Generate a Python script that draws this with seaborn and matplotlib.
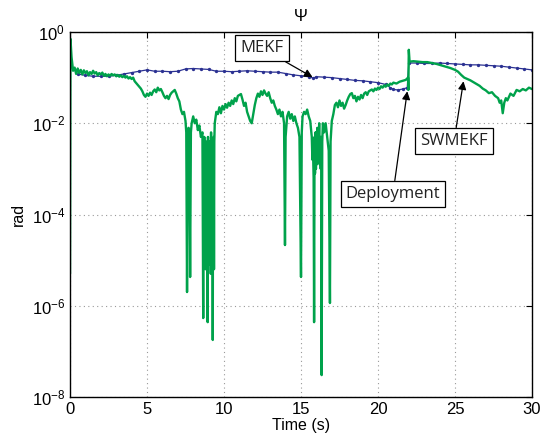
import numpy as np
import pandas as pd
import matplotlib
matplotlib.use("Agg")
import matplotlib.pyplot as plt
import seaborn as sns

# ---- data (log10 of error, rad) ----
sw_t = [0.00, 0.03, 0.1, 0.2, 0.3, 0.4, 0.5, 0.6, 0.7, 0.8, 0.9, 1.0, 1.1, 1.2, 1.3, 1.4, 1.5, 1.6, 1.7, 1.8,
        1.9, 2.0, 2.1, 2.2, 2.3, 2.4, 2.5, 2.6, 2.7, 2.8, 2.9, 3.0, 3.1, 3.2, 3.3, 3.4, 3.5, 3.6, 3.7, 3.8,
        3.9, 4.0, 4.1, 4.2, 4.3, 4.4, 4.5, 4.6, 4.7, 4.8, 4.9, 5.0, 5.1, 5.2, 5.3, 5.4, 5.5, 5.6, 5.7, 5.8,
        5.9, 6.0, 6.1, 6.2, 6.3, 6.4, 6.5, 6.6, 6.7, 6.8, 6.9, 7.0, 7.1, 7.2, 7.3, 7.4, 7.5, 7.55, 7.6, 7.65,
        7.7, 7.75, 7.8, 7.85, 7.9, 8.0, 8.1, 8.2, 8.3, 8.4, 8.5,
        8.6, 8.62, 8.65, 8.67, 8.70, 8.72, 8.75, 8.78, 8.80, 8.83, 8.85, 8.88, 8.90, 8.94, 8.96, 8.98, 9.00, 9.02,
        9.04, 9.06, 9.08, 9.10, 9.12, 9.14, 9.16, 9.18, 9.20, 9.22, 9.25, 9.27, 9.29, 9.31, 9.33, 9.35, 9.37, 9.4,
        9.5, 9.6, 9.7, 9.8, 9.9, 10.0, 10.1, 10.2, 10.3, 10.4,
        10.5, 10.6, 10.7, 10.8, 10.9, 11.0, 11.1, 11.2, 11.3, 11.4, 11.5, 11.6, 11.7, 11.8, 11.9, 12.0, 12.1, 12.2, 12.3, 12.4,
        12.5, 12.6, 12.7, 12.8, 12.9, 13.0, 13.1, 13.2, 13.3, 13.4, 13.5, 13.6, 13.7, 13.8, 13.9, 13.96, 14.0, 14.1, 14.2, 14.3,
        14.4, 14.5, 14.6, 14.7, 14.8, 14.9, 15.0, 15.05, 15.1, 15.2, 15.3, 15.4, 15.5, 15.6,
        15.7, 15.74, 15.78, 15.82, 15.85, 15.88, 15.91, 15.94, 15.97, 16.0, 16.03, 16.06, 16.09, 16.12, 16.15, 16.18,
        16.21, 16.25, 16.28, 16.31, 16.34, 16.38, 16.42,
        16.5, 16.6, 16.7, 16.8, 16.88, 16.92, 17.0, 17.1, 17.2, 17.3, 17.4,
        17.5, 17.6, 17.7, 17.8, 17.9, 18.0, 18.1, 18.2, 18.3, 18.4, 18.5, 18.6, 18.7, 18.8, 18.9, 19.0, 19.1, 19.2, 19.3, 19.4,
        19.5, 19.6, 19.7, 19.8, 19.9, 20.0, 20.1, 20.2, 20.3, 20.4, 20.5, 20.6, 20.7, 20.8, 20.9, 21.0, 21.2, 21.4, 21.6, 21.8,
        21.95, 21.97, 22.0, 22.05, 22.3, 22.6, 22.9, 23.2, 23.5, 23.8, 24.1, 24.4, 24.7, 25.0, 25.2, 25.4, 25.6, 25.8, 26.0, 26.2,
        26.4, 26.6, 26.8, 27.0, 27.2, 27.4, 27.6, 27.8, 27.9, 28.0, 28.1, 28.2, 28.3, 28.4, 28.6, 28.8, 29.0, 29.2, 29.4, 29.6,
        29.8, 30.0]
sw_log = [-5.3, -0.15, -0.55, -0.85, -0.78, -0.92, -0.80, -0.90, -0.83, -0.93, -0.84, -0.90, -0.86, -0.95, -0.88, -0.92, -0.85, -0.91, -0.88, -0.95,
          -0.90, -0.93, -0.89, -0.96, -0.92, -0.97, -0.93, -0.96, -0.92, -0.95, -0.93, -0.97, -0.94, -0.98, -0.95, -0.99, -0.96, -1.00, -0.97, -1.02,
          -0.99, -1.03, -1.00, -1.08, -1.12, -1.16, -1.20, -1.24, -1.30, -1.38, -1.42, -1.35, -1.40, -1.33, -1.38, -1.30, -1.26, -1.32, -1.22, -1.28,
          -1.25, -1.32, -1.40, -1.45, -1.40, -1.47, -1.38, -1.33, -1.30, -1.27, -1.35, -1.45, -1.52, -1.70, -1.80, -1.75, -1.95, -2.2, -5.7, -2.3,
          -2.1, -2.6, -5.37, -2.2, -2.0, -1.85, -2.0, -1.92, -2.15, -2.05, -2.3,
          -2.2, -4.0, -6.27, -2.5, -5.0, -2.3, -4.8, -2.6, -5.2, -2.4, -3.5, -5.0, -2.5, -6.36, -2.3, -4.9, -2.6, -5.1,
          -2.4, -4.6, -2.7, -4.3, -2.5, -5.3, -2.2, -5.15, -2.6, -4.5, -2.5, -6.75, -2.8, -5.0, -2.3, -5.2, -2.4, -2.0,
          -1.75, -1.80, -1.65, -1.78, -1.62, -1.70, -1.58, -1.66, -1.55, -1.62,
          -1.50, -1.58, -1.45, -1.52, -1.40, -1.38, -1.36, -1.48, -1.62, -1.55, -1.75, -1.85, -1.95, -2.0, -1.8, -1.6, -1.45, -1.35, -1.42, -1.30,
          -1.38, -1.28, -1.35, -1.40, -1.32, -1.45, -1.55, -1.50, -1.62, -1.70, -1.80, -1.70, -1.85, -1.75, -2.0, -4.67, -2.3, -1.85, -1.75, -1.90,
          -1.80, -1.95, -1.85, -2.0, -2.1, -2.3, -5.37, -2.2, -1.85, -1.75, -1.80, -1.70, -1.85, -1.95,
          -2.3, -2.8, -2.6, -3.2, -6.36, -2.3, -3.1, -2.2, -3.0, -2.2, -2.9, -2.1, -2.7, -2.2, -2.6, -2.0,
          -2.9, -2.3, -3.0, -2.3, -7.52, -2.4, -2.0,
          -2.2, -2.0, -2.3, -2.6, -5.94, -2.4, -1.95, -1.80, -1.60, -1.55, -1.65,
          -1.50, -1.62, -1.55, -1.68, -1.60, -1.50, -1.42, -1.36, -1.34, -1.45, -1.40, -1.52, -1.42, -1.48, -1.38, -1.45, -1.35, -1.32, -1.38, -1.30,
          -1.28, -1.26, -1.30, -1.24, -1.27, -1.22, -1.25, -1.19, -1.22, -1.17, -1.20, -1.15, -1.18, -1.13, -1.15, -1.11, -1.13, -1.09, -1.07, -1.05,
          -1.00, -1.27, -0.39, -0.65, -0.64, -0.65, -0.66, -0.66, -0.68, -0.70, -0.73, -0.76, -0.79, -0.83, -0.87, -0.94, -1.00, -1.03, -1.06, -1.10,
          -1.14, -1.18, -1.24, -1.28, -1.34, -1.32, -1.40, -1.45, -1.55, -1.50, -1.78, -1.55, -1.45, -1.50, -1.35, -1.40, -1.27, -1.30, -1.25, -1.28,
          -1.22, -1.25]
assert len(sw_t) == len(sw_log), (len(sw_t), len(sw_log))

mekf_t = [0.5, 1.0, 1.5, 2.0, 2.5, 3.0, 3.5, 4.0, 4.5, 5.0, 5.5, 6.0, 6.5, 7.0, 7.5, 8.0, 8.5, 9.0, 9.5, 10.0,
          10.5, 11.0, 11.5, 12.0, 12.5, 13.0, 13.5, 14.0, 14.5, 15.0, 15.5, 15.8, 16.0, 16.5, 17.0, 17.5, 18.0, 18.5, 19.0, 19.5,
          20.0, 20.5, 20.8, 21.0, 21.3, 21.6, 21.9, 22.0, 22.5, 23.0, 23.5, 24.0, 24.5, 25.0, 25.5, 26.0, 26.5, 27.0, 27.5, 28.0,
          28.5, 29.0, 29.5, 30.0]
mekf_log = [-0.92, -0.95, -0.97, -0.97, -0.97, -0.95, -0.92, -0.89, -0.86, -0.83, -0.86, -0.86, -0.87, -0.86, -0.81, -0.80, -0.81, -0.82, -0.86, -0.86,
            -0.87, -0.86, -0.85, -0.86, -0.87, -0.88, -0.88, -0.91, -0.94, -0.96, -0.98, -1.01, -0.98, -0.99, -1.00, -1.02, -1.04, -1.06, -1.07, -1.09,
            -1.11, -1.15, -1.22, -1.26, -1.27, -1.25, -1.22, -0.68, -0.68, -0.69, -0.69, -0.68, -0.69, -0.70, -0.71, -0.72, -0.72, -0.73, -0.74, -0.75,
            -0.77, -0.79, -0.81, -0.83]

xticks = [0, 5, 10, 15, 20, 25, 30]
yticks = [1e-8, 1e-6, 1e-4, 1e-2, 1e0]
ytick_labels = [r"$10^{-8}$", r"$10^{-6}$", r"$10^{-4}$", r"$10^{-2}$", r"$10^{0}$"]

df_sw = pd.DataFrame({"t": sw_t, "v": np.power(10.0, sw_log)})
df_mk = pd.DataFrame({"t": mekf_t, "v": np.power(10.0, mekf_log)})

sns.set_style("white")
plt.rcParams["font.family"] = ["Liberation Sans", "DejaVu Sans"]
plt.rcParams["mathtext.fontset"] = "custom"
plt.rcParams["mathtext.rm"] = "Liberation Sans"
plt.rcParams["mathtext.it"] = "Liberation Sans"
plt.rcParams["text.color"] = "black"
plt.rcParams["axes.labelcolor"] = "black"
plt.rcParams["xtick.color"] = "black"
plt.rcParams["ytick.color"] = "black"

fig = plt.figure(figsize=(5.47, 4.42), dpi=100)
ax = fig.add_axes([70/547, 1-397/442, 462/547, 365/442])

green = "#00a24b"
blue = "#2b3192"

sns.lineplot(data=df_mk, x="t", y="v", ax=ax, color=blue, linewidth=0.9,
             marker="o", markersize=2.4, markeredgewidth=0, sort=False, estimator=None)
sns.lineplot(data=df_sw, x="t", y="v", ax=ax, color=green, linewidth=1.7,
             sort=False, estimator=None)

ax.set_yscale("log")
ax.set_xlim(0, 30)
ax.set_ylim(1e-8, 1e0)
ax.set_xticks(xticks)
ax.set_xticklabels([str(x) for x in xticks])
ax.set_yticks(yticks)
ax.set_yticklabels(ytick_labels)
ax.yaxis.set_minor_locator(matplotlib.ticker.NullLocator())
ax.tick_params(direction="in", top=True, right=True, length=4, labelsize=12,
               color="black", labelcolor="black")
ax.grid(True, linestyle=(0, (1, 3)), color="#999999", linewidth=0.8)
for s in ax.spines.values():
    s.set_color("black")
    s.set_linewidth(1.0)

ax.set_xlabel("Time (s)", fontsize=11.5, labelpad=1, color="black")
ax.set_ylabel("rad", fontsize=11.5, labelpad=4, color="black")
ax.set_title("Ψ", fontsize=12, pad=8, color="black")

bbox = dict(boxstyle="square,pad=0.3", fc="white", ec="black", lw=0.9)
arrow = dict(arrowstyle="-|>", color="black", lw=0.9, mutation_scale=12, shrinkA=0, shrinkB=0)
afont = dict(fontsize=12, family=["Open Sans", "DejaVu Sans"], color="#222222")
ax.annotate("MEKF", xy=(15.75, 10**-0.99), xytext=(12.47, 10**-0.36),
            ha="center", va="center", bbox=bbox, arrowprops=arrow, **afont)
ax.annotate("Deployment", xy=(21.9, 10**-1.3), xytext=(20.97, 10**-3.55),
            ha="center", va="center", bbox=bbox, arrowprops=arrow, **afont)
ax.annotate("SWMEKF", xy=(25.55, 10**-1.08), xytext=(24.94, 10**-2.39),
            ha="center", va="center", bbox=bbox, arrowprops=arrow, **afont)

fig.savefig("out.png", dpi=100)
